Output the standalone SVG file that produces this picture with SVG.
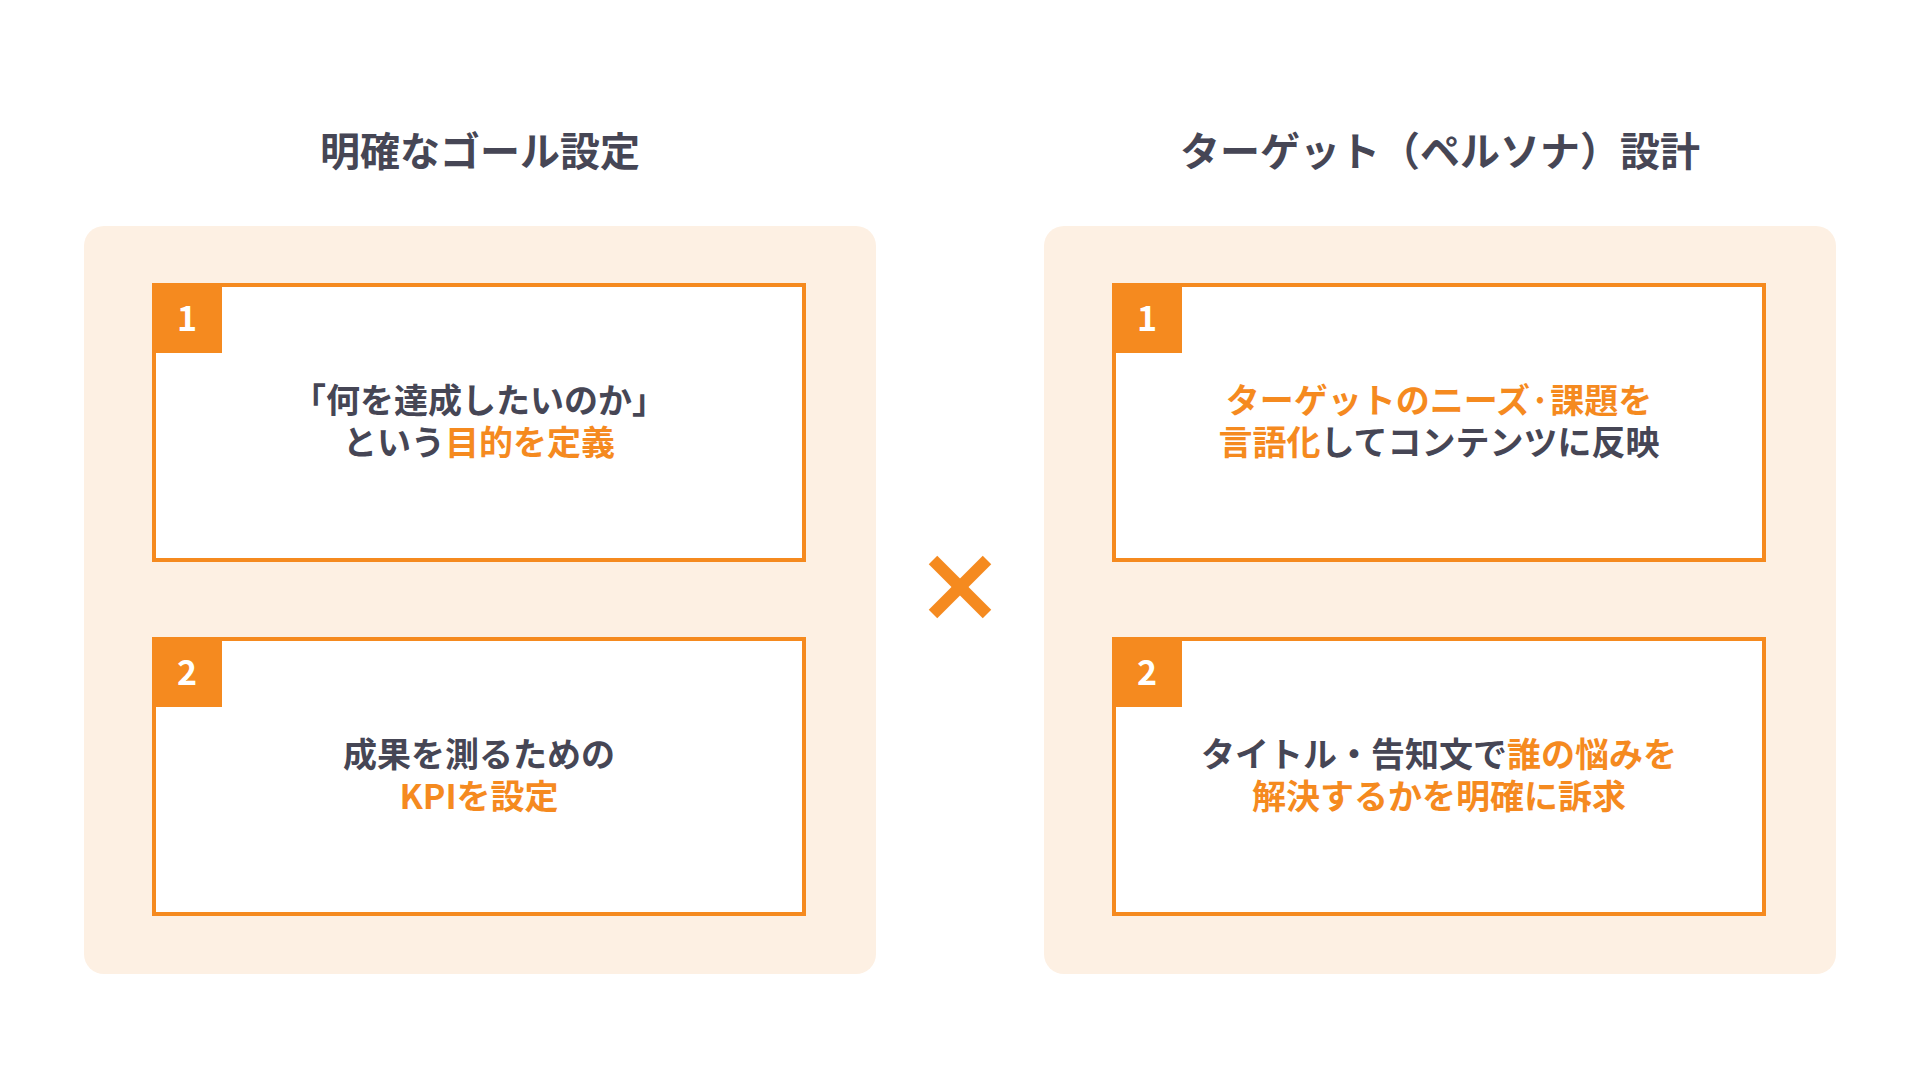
<svg xmlns="http://www.w3.org/2000/svg" width="1920" height="1080" viewBox="0 0 1920 1080">
<style>
text{font-family:"Noto Sans CJK JP","Noto Sans",sans-serif;font-weight:700}
.title{font-size:40px;fill:#464655;text-anchor:middle}
.body{font-size:34px;fill:#464655;text-anchor:middle}
.num{font-size:34px;fill:#ffffff;text-anchor:middle}
.hl{fill:#F58A1F}
.panel{fill:#FDF0E3}
.card{fill:#ffffff;stroke:#F58A1F;stroke-width:4}
.badge{fill:#F58A1F}
</style>
<rect width="1920" height="1080" fill="#ffffff"/>

<g id="left-column">
  <text class="title" x="480" y="166">明確なゴール設定</text>
  <rect class="panel" x="84" y="226" width="792" height="748" rx="20"/>
</g>
<g id="right-column">
  <text class="title" x="1440" y="166">ターゲット（ペルソナ）設計</text>
  <rect class="panel" x="1044" y="226" width="792" height="748" rx="20"/>
</g>

<g id="left-card-1">
  <rect class="card" x="154" y="285" width="650" height="275"/>
  <rect class="badge" x="152" y="283" width="70" height="70"/>
  <text class="num" x="187" y="331">1</text>
  <text class="body"><tspan x="479" y="413">「何を達成したいのか」</tspan><tspan x="479" y="455">という<tspan class="hl">目的を定義</tspan></tspan></text>
</g>

<g id="left-card-2">
  <rect class="card" x="154" y="639" width="650" height="275"/>
  <rect class="badge" x="152" y="637" width="70" height="70"/>
  <text class="num" x="187" y="685">2</text>
  <text class="body"><tspan x="479" y="767">成果を測るための</tspan><tspan class="hl" x="479" y="809">KPIを設定</tspan></text>
</g>

<g id="right-card-1">
  <rect class="card" x="1114" y="285" width="650" height="275"/>
  <rect class="badge" x="1112" y="283" width="70" height="70"/>
  <text class="num" x="1147" y="331">1</text>
  <text class="body"><tspan class="hl" x="1439" y="413">ターゲットのニーズ·課題を</tspan><tspan x="1439" y="455"><tspan class="hl">言語化</tspan>してコンテンツに反映</tspan></text>
</g>

<g id="right-card-2">
  <rect class="card" x="1114" y="639" width="650" height="275"/>
  <rect class="badge" x="1112" y="637" width="70" height="70"/>
  <text class="num" x="1147" y="685">2</text>
  <text class="body"><tspan x="1439" y="767">タイトル・告知文で<tspan class="hl">誰の悩みを</tspan></tspan><tspan class="hl" x="1439" y="809">解決するかを明確に訴求</tspan></text>
</g>

<g id="times-sign" stroke="#F58A1F" stroke-width="12" stroke-linecap="butt">
  <line x1="933" y1="560" x2="987" y2="614"/>
  <line x1="987" y1="560" x2="933" y2="614"/>
</g>

<g id="connectors"></g>
</svg>
